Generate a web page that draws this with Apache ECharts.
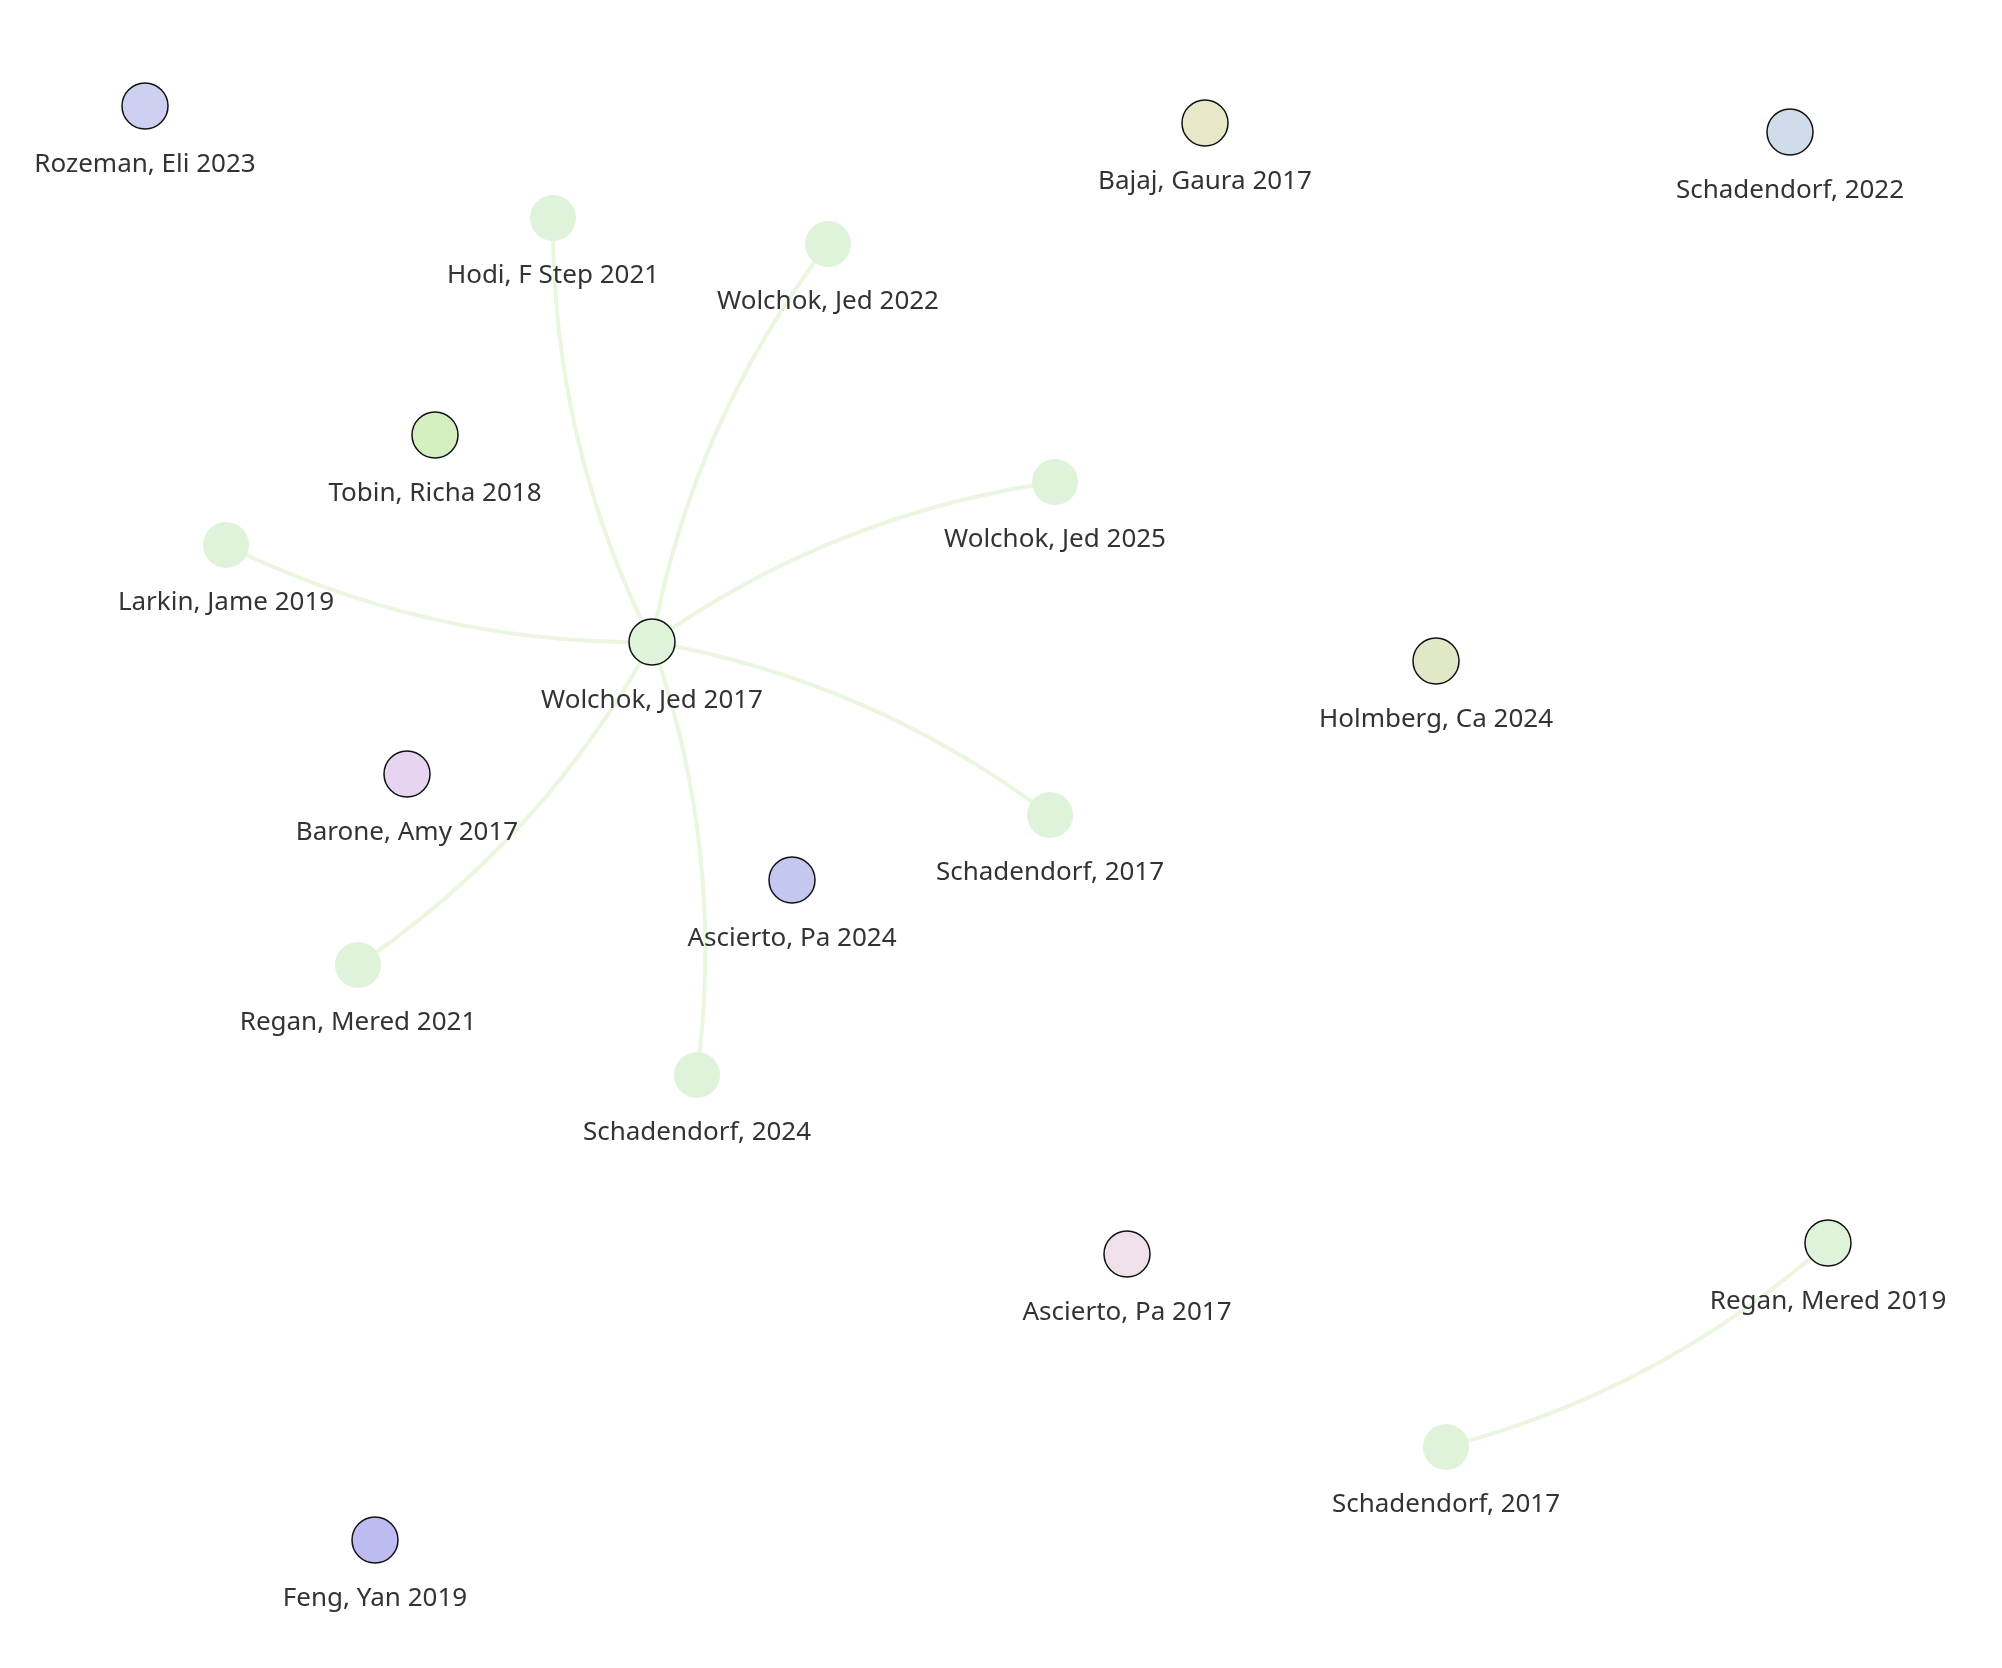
<!DOCTYPE html><html><head><meta charset="utf-8"><script src="https://cdn.jsdelivr.net/npm/echarts@6/dist/echarts.min.js"></script>
<style>html,body{margin:0;background:#fff}#c{width:2002px;height:1668px}</style></head><body><div id="c"></div><script>
const labels=["Rozeman, Eli 2023","Bajaj, Gaura 2017","Schadendorf, 2022","Hodi, F Step 2021","Wolchok, Jed 2022","Tobin, Richa 2018","Wolchok, Jed 2025","Larkin, Jame 2019","Wolchok, Jed 2017","Holmberg, Ca 2024","Barone, Amy 2017","Schadendorf, 2017","Ascierto, Pa 2024","Regan, Mered 2021","Schadendorf, 2024","Ascierto, Pa 2017","Regan, Mered 2019","Schadendorf, 2017","Feng, Yan 2019"];
const xs=[145,1205,1790,553,828,435,1055,226,652,1436,407,1050,792,358,697,1127,1828,1446,375];
const ys=[106,123,132,218,244,435,482,545,642,661,774,815,880,965,1075,1254,1243,1447,1540];
const colors=["#cdd0f0","#e8e8c8","#d0dcea","#dff2da","#dff2da","#d4f0c0","#dff2da","#dff2da","#dff2da","#e0e8c8","#e6d4f0","#dff2da","#c4c8f0","#dff2da","#dff2da","#f0e0ec","#dff2da","#dff2da","#bcbcf0"];
const bordered=[1,1,1,0,0,1,0,0,1,1,1,0,1,0,0,1,1,0,1];
const links=[[8,3],[8,4],[8,6],[8,7],[8,11],[8,13],[8,14],[16,17]];
const chart=echarts.init(document.getElementById('c'));
chart.setOption({
 animation:false,
 grid:{left:0,right:0,top:0,bottom:0},
 xAxis:{type:'value',min:0,max:2002,show:false},
 yAxis:{type:'value',min:0,max:1668,inverse:true,show:false},
 series:[{type:'graph',coordinateSystem:'cartesian2d',symbolSize:46,
  data:labels.map((l,i)=>({id:String(i),name:l,value:[xs[i],ys[i]],itemStyle:{color:colors[i],borderColor:'#111',borderWidth:bordered[i]?1.5:0}})),
  links:links.map(([s,t])=>({source:String(s),target:String(t)})),
  label:{show:true,position:'bottom',distance:22,fontSize:26,color:'#333',fontFamily:'Noto Sans',formatter:p=>p.name},
  lineStyle:{color:'#eaf6e0',width:4,curveness:0.12,opacity:1},
  z:2
 }]
});
</script></body></html>
